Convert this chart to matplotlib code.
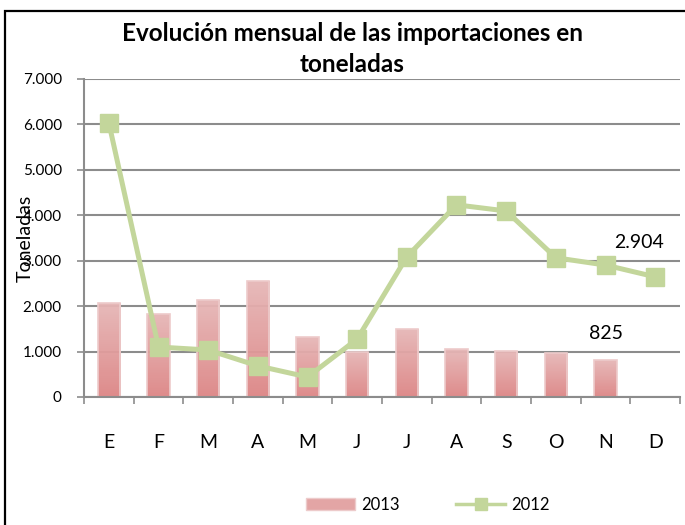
import numpy as np
import matplotlib
matplotlib.use("Agg")
import matplotlib.pyplot as plt
from matplotlib.colors import LinearSegmentedColormap
from matplotlib.patches import Rectangle
from matplotlib.lines import Line2D
from matplotlib.patches import Patch

plt.rcParams['font.family'] = ['Lato', 'DejaVu Sans']

months = ["E", "F", "M", "A", "M", "J", "J", "A", "S", "O", "N", "D"]
imp_2013 = [2070, 1830, 2135, 2550, 1320, 995, 1500, 1055, 1010, 965, 825, np.nan]
imp_2012 = [6035, 1100, 1035, 685, 440, 1275, 3085, 4230, 4095, 3065, 2904, 2645]
yticks = [0, 1000, 2000, 3000, 4000, 5000, 6000, 7000]
title = "Evolución mensual de las importaciones en\ntoneladas"

bar_top = "#E6B7B7"
bar_bot = "#DD8585"
line_col = "#C3D69B"
grid_col = "#8C8C8C"

fig = plt.figure(figsize=(6.85, 5.25), dpi=100)
ax = fig.add_axes([84/685, 128/525, 596/685, 318/525])

x = np.arange(len(months))
bars = ax.bar(x, imp_2013, width=0.45, color="none", edgecolor="none", zorder=2)
cmap = LinearSegmentedColormap.from_list("g", [bar_bot, bar_top])
grad = np.linspace(0, 1, 256).reshape(256, 1)
for b in bars:
    h = b.get_height()
    if not np.isfinite(h):
        continue
    x0 = b.get_x(); w = b.get_width()
    im = ax.imshow(grad, cmap=cmap, origin="lower", aspect="auto",
                   extent=[x0, x0 + w, 0, h], alpha=0.95, zorder=2)
    im.set_clip_path(b)
    ax.add_patch(Rectangle((x0, 0), w, h, facecolor="none", edgecolor="#EDCBCB",
                           linewidth=1.2, zorder=2.5))

ax.plot(x, imp_2012, color=line_col, linewidth=3.6, marker="s", markersize=13,
        markerfacecolor=line_col, markeredgecolor=line_col, zorder=4)

ax.set_xlim(-0.5, len(months) - 0.5)
ax.set_ylim(0, 7000)
ax.set_yticks(yticks)
ax.set_yticklabels([f"{v:,}".replace(",", ".") for v in yticks])
ax.set_xticks(x)
ax.set_xticklabels(months)
ax.set_xticks(np.arange(-0.5, len(months)), minor=True)
ax.tick_params(axis="x", which="major", length=0, pad=27, labelsize=14)
ax.tick_params(axis="x", which="minor", length=5, width=1.2, color=grid_col, direction="out")
ax.tick_params(axis="y", length=5, width=1.2, color=grid_col, pad=11, labelsize=11)
ax.set_axisbelow(True)
ax.yaxis.grid(True, color=grid_col, linewidth=1.5)
for s in ["top", "right"]:
    ax.spines[s].set_visible(False)
for s in ["left", "bottom"]:
    ax.spines[s].set_color(grid_col)
    ax.spines[s].set_linewidth(1.5)

ax.annotate("2.904", xy=(10, imp_2012[10]), xytext=(24, 16), textcoords="offset points",
            ha="center", va="center", fontsize=14)
ax.annotate("825", xy=(10, imp_2013[10]), xytext=(0, 19), textcoords="offset points",
            ha="center", va="center", fontsize=14)

fig.text(352/685, 1 - 49/525, title, ha="center", va="center", fontsize=17.5,
         fontweight="bold", linespacing=1.45)
fig.text(25/685, 1 - 238/525, "Toneladas", rotation=90, ha="center", va="center", fontsize=14)

handles = [Patch(facecolor="#E3A5A5", edgecolor="#EDCBCB"),
           Line2D([], [], color=line_col, linewidth=2.5, marker="s", markersize=9)]
fig.legend(handles, ["2013", "2012"], loc="center", bbox_to_anchor=(428/685, 20/525),
           ncol=2, frameon=False, fontsize=12, handlelength=2.9, handleheight=0.7,
           handletextpad=0.4, columnspacing=3.4)

fig.add_artist(Rectangle((5/685, -0.05), 1.2, 0.05 + (525 - 11)/525, transform=fig.transFigure,
                         facecolor="none", edgecolor="black", linewidth=1.6, clip_on=False))

fig.savefig("out.png", dpi=100)
